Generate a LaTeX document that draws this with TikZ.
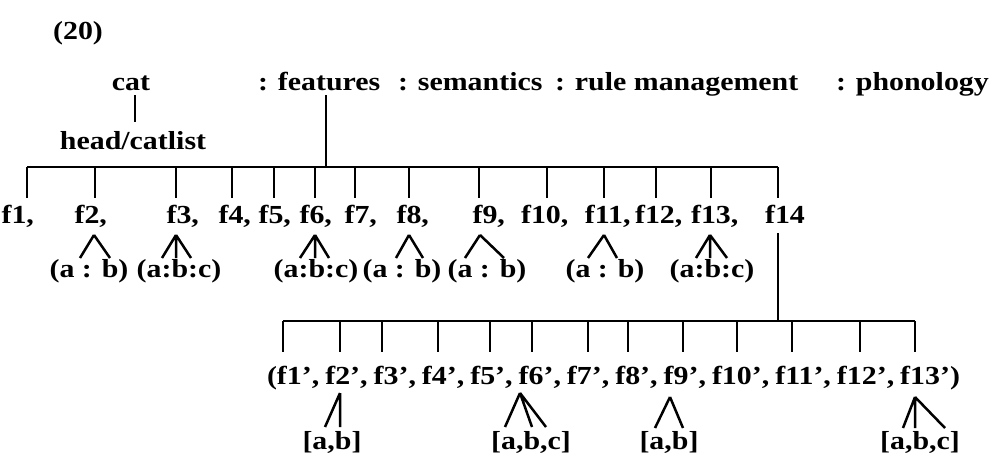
\documentclass[tikz,border=0pt]{standalone}
\usepackage{fontspec}
\setmainfont{Liberation Serif}[FakeStretch=1.15]
\begin{document}
\begin{tikzpicture}[x=1pt,y=-1pt,line width=2.5pt,
  lab/.style={font=\bfseries\fontsize{26}{30}\selectfont,inner sep=0pt,outer sep=0pt,anchor=base},
  labw/.style={lab,anchor=base west},
  flab/.style={lab}]
\useasboundingbox (0,0) rectangle (1003,461);
% header
\node[lab] (n20) at (78,39) {(20)};
\node[lab] (cat) at (131,90) {cat};
\node[lab] (head) at (133,149) {head/catlist};
\node[labw] (feat) at (258,90) {: features};
\node[labw] (sem) at (398,90) {: semantics};
\node[labw] (rule) at (555,90) {: rule management};
\node[labw] (phon) at (836,90) {: phonology};
\coordinate (c1) at (135,95);
\coordinate (c2) at (135,122);
\draw (c1) -- (c2);
\coordinate (fa) at (326,95);
\coordinate (fb) at (326,167);
\draw (fa) -- (fb);
% first level
\foreach \n/\lx/\tx in {1/14/27,2/87/95,3/179/176,4/231/232,5/271/274,6/312/315,7/357/355,8/409/409,9/485/479,10/541/547,11/604/604,12/655/656,13/711/711}{
  \node[flab] (f\n) at (\lx,223) {f\n\rlap{,}};
  \coordinate (b\n) at (\tx,167);
  \draw (b\n) -- ++(0,31);
}
\node[flab] (f14) at (785,223) {f14};
\coordinate (b14) at (778,167);
\draw (b14) -- ++(0,31);
\draw (b1) -- (b14);
% subtrees of first level
\node[lab] (s2) at (89,277) {(a : b)};
\node[lab] (s3) at (179,277) {(a:b:c)};
\node[lab] (s6) at (316,277) {(a:b:c)};
\node[lab] (s8) at (402,277) {(a : b)};
\node[lab] (s9) at (487,277) {(a : b)};
\node[lab] (s11) at (605,277) {(a : b)};
\node[lab] (s13) at (712,277) {(a:b:c)};
\draw (94,235) -- (80,258) (94,235) -- (110,258);
\draw (176,235) -- (162,258) (176,235) -- (176,258) (176,235) -- (191,258);
\draw (315,235) -- (300,258) (315,235) -- (315,258) (315,235) -- (329,258);
\draw (409,235) -- (396,258) (409,235) -- (423,258);
\draw (480,235) -- (465,258) (480,235) -- (504,258);
\draw (604,235) -- (588,258) (604,235) -- (617,258);
\draw (710,235) -- (696,258) (710,235) -- (710,258) (710,235) -- (727,258);
% f14 to second level
\coordinate (g0) at (778,233);
\coordinate (g1) at (778,321);
\draw (g0) -- (g1);
% second level labels (one running line)
\node[labw] (h1) at (267,384) {(f1',};
\node[labw] (h2) at ([xshift=6pt]h1.base east) {f2',};
\node[labw] (h3) at ([xshift=6pt]h2.base east) {f3',};
\node[labw] (h4) at ([xshift=6pt]h3.base east) {f4',};
\node[labw] (h5) at ([xshift=6pt]h4.base east) {f5',};
\node[labw] (h6) at ([xshift=6pt]h5.base east) {f6',};
\node[labw] (h7) at ([xshift=6pt]h6.base east) {f7',};
\node[labw] (h8) at ([xshift=6pt]h7.base east) {f8',};
\node[labw] (h9) at ([xshift=6pt]h8.base east) {f9',};
\node[labw] (h10) at ([xshift=6pt]h9.base east) {f10',};
\node[labw] (h11) at ([xshift=6pt]h10.base east) {f11',};
\node[labw] (h12) at ([xshift=6pt]h11.base east) {f12',};
\node[labw] (h13) at ([xshift=6pt]h12.base east) {f13')};
\foreach \n/\tx in {1/283,2/340,3/382,4/438,5/490,6/532,7/588,8/628,9/683,10/737,11/792,12/860,13/915}{
  \coordinate (k\n) at (\tx,321);
  \draw (k\n) -- ++(0,31);
}
\draw (k1) -- (k13);
% subtrees of second level
\node[lab] (t2) at (332,449) {[a,b]};
\node[lab] (t6) at (531,449) {[a,b,c]};
\node[lab] (t9) at (669,449) {[a,b]};
\node[lab] (t13) at (920,449) {[a,b,c]};
\draw (340,393) -- (325,427) (340,393) -- (340,427);
\draw (520,393) -- (505,427) (520,393) -- (532,427) (520,393) -- (546,427);
\draw (670,397) -- (655,428) (670,397) -- (683,428);
\draw (915,397) -- (903,428) (915,397) -- (915,428) (915,397) -- (945,428);
\end{tikzpicture}
\end{document}
